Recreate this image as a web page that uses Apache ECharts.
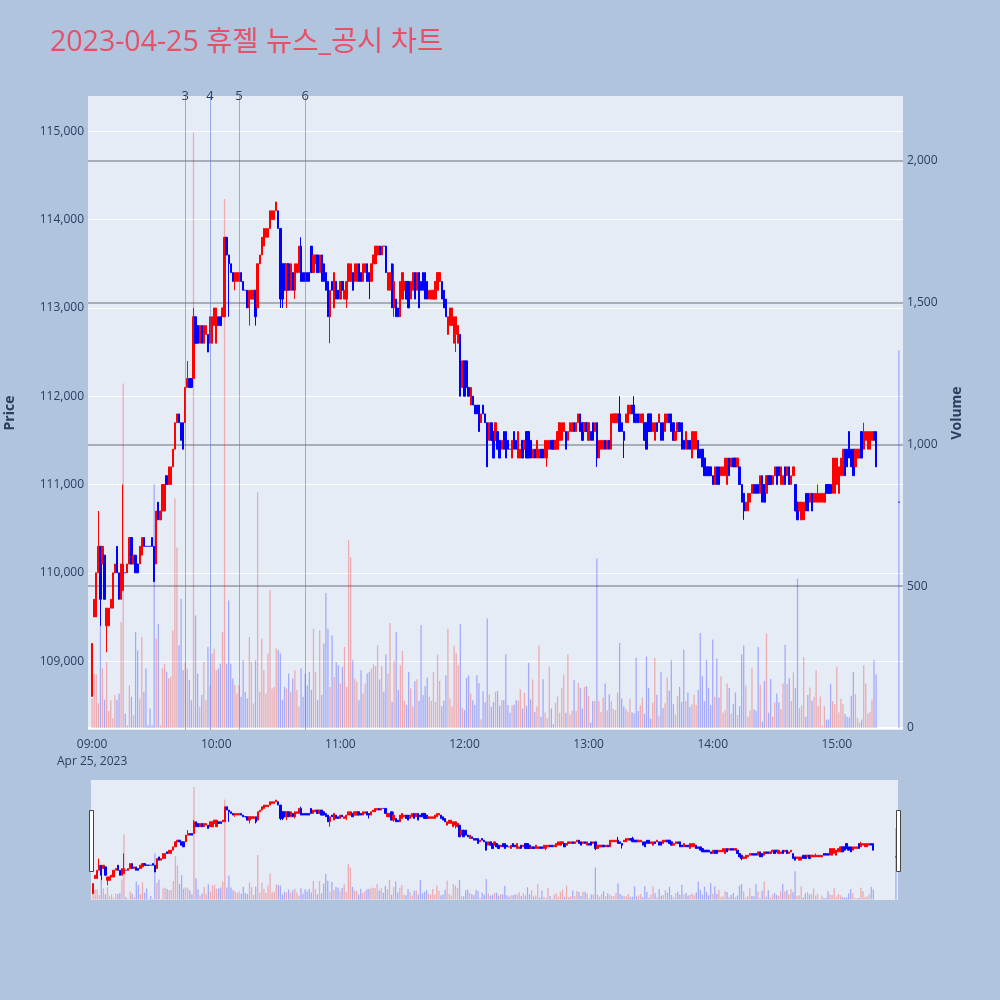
<!DOCTYPE html>
<html><head><meta charset="utf-8">
<script src="https://cdn.jsdelivr.net/npm/echarts@6/dist/echarts.min.js"></script>
<style>html,body{margin:0;padding:0;background:#B0C4DE}#chart{width:1000px;height:1000px}</style>
</head><body><div id="chart"></div>
<script>
const TITLE = '2023-04-25 휴젤 뉴스_공시 차트';
const dateLabel = 'Apr 25, 2023';
const sessionStartMinute = 9 * 60;   // first candle 09:00, one candle per minute
const axisStartMinute = 8 * 60 + 58; // axis range 08:58 .. 15:32
const axisEndMinute = 15 * 60 + 32;

const opens = [
108600,109500,109500,110000,110300,110100,110200,109400,109400,109600,
109600,110000,110300,110000,109700,109800,110000,110000,110100,110400,
110100,110200,110100,110100,110200,110400,110300,110300,110300,110400,
110300,110100,110800,110600,110700,110700,111100,111000,111000,111200,
111400,111700,111800,111700,111700,111700,112100,112200,112200,112200,
112900,112800,112600,112800,112600,112700,112700,112600,112600,112800,
112600,112900,112900,112900,112900,113800,113600,113500,113400,113300,
113300,113300,113400,113300,113200,113200,113000,113100,113100,113200,
113000,113500,113600,113700,113800,113800,113900,114000,114000,114100,
114100,113900,113500,113500,113200,113500,113200,113400,113200,113400,
113400,113700,113400,113400,113400,113400,113700,113400,113500,113600,
113400,113600,113500,113400,113300,112900,113300,113000,113300,113200,
113100,113300,113100,113100,113300,113300,113400,113300,113300,113500,
113400,113300,113400,113500,113400,113300,113500,113500,113600,113700,
113600,113700,113700,113200,113200,113500,113000,113100,113000,112900,
113100,113200,113300,113300,113100,113200,113400,113200,113400,113300,
113400,113400,113300,113100,113100,113100,113100,113200,113300,113300,
113200,113100,112700,112800,112800,112600,112700,112600,112700,112100,
112400,112400,112100,111900,112000,111900,111900,111900,111700,111900,
111800,111700,111500,111700,111600,111500,111600,111500,111400,111600,
111600,111500,111400,111300,111600,111500,111300,111300,111500,111400,
111600,111600,111500,111300,111400,111300,111300,111400,111400,111300,
111300,111400,111500,111500,111400,111400,111500,111500,111600,111600,
111500,111600,111600,111700,111600,111700,111800,111700,111600,111700,
111500,111600,111700,111600,111700,111300,111400,111400,111500,111400,
111500,111400,111700,111700,111700,111800,111700,111600,111700,111700,
111800,111900,111900,111800,111800,111700,111700,111700,111700,111800,
111800,111600,111500,111700,111700,111700,111700,111600,111700,111800,
111800,111700,111500,111600,111700,111700,111500,111400,111500,111500,
111300,111400,111400,111500,111400,111400,111300,111200,111200,111200,
111100,111000,111200,111200,111100,111100,111100,111000,111300,111200,
111300,111300,111200,111200,111000,110900,110700,110700,110800,110900,
111000,111000,111000,110900,111100,111000,110900,111100,111100,111000,
111100,111200,111200,111000,111000,111200,111100,111200,111000,111100,
111000,110800,110700,110600,110600,110900,110900,110800,110900,110800,
110800,110800,110800,110800,110800,111000,111000,111000,110900,110900,
111000,110900,111100,111100,111400,111400,111600,111400,111400,111200,
111300,111300,111600,111400,111500,111400,111400,111500,111600,111600
];
const closes = [
109200,109700,110000,110300,109700,110300,109700,109600,109600,109700,
110000,110100,110000,109700,110100,110100,110000,110100,110400,110100,
110200,110000,110000,110300,110400,110300,110300,110300,110300,110300,
109900,110700,110600,110700,111000,111000,111000,111200,111200,111400,
111700,111800,111700,111500,111400,112100,112200,112100,112100,112900,
112600,112600,112800,112600,112800,112800,112500,112900,112900,113000,
113000,112800,112800,113000,113800,113600,113500,113400,113300,113400,
113400,113400,113300,113200,113200,113000,113200,113200,113200,112900,
113500,113600,113800,113900,113900,113900,114100,114100,114100,114200,
113900,113100,113100,113200,113500,113200,113500,113200,113500,113500,
113700,113300,113300,113300,113300,113300,113400,113600,113600,113400,
113600,113300,113300,113200,112900,113200,113200,113400,113100,113100,
113300,113200,113200,113300,113500,113500,113200,113500,113500,113300,
113300,113500,113500,113300,113300,113500,113600,113700,113700,113600,
113700,113700,113400,113400,113400,113000,113300,112900,112900,113300,
113400,113300,113100,113000,113300,113400,113100,113400,113000,113200,
113200,113100,113100,113200,113200,113200,113300,113400,113400,113100,
113000,112900,112900,113000,113000,112900,112900,112800,112000,112400,
112000,112100,112000,112100,111900,111800,111800,111600,111800,111800,
111700,111200,111700,111500,111300,111700,111400,111300,111500,111400,
111300,111400,111400,111500,111400,111400,111600,111400,111300,111500,
111300,111300,111300,111400,111300,111500,111400,111300,111300,111500,
111500,111500,111400,111400,111500,111600,111700,111700,111700,111400,
111600,111700,111700,111600,111700,111800,111600,111500,111700,111600,
111700,111500,111500,111700,111300,111500,111500,111500,111400,111500,
111400,111800,111800,111800,111800,111600,111600,111500,111800,111900,
111900,111800,111700,111700,111700,111800,111800,111500,111400,111600,
111600,111700,111700,111600,111800,111500,111500,111800,111800,111700,
111600,111500,111600,111700,111600,111400,111400,111600,111400,111400,
111600,111600,111600,111300,111300,111200,111100,111100,111100,111100,
111000,111200,111000,111000,111200,111200,111300,111300,111100,111300,
111200,111200,111300,111000,110800,110700,110800,110900,110900,111000,
110900,110900,110900,111100,110800,110800,111100,111000,111000,111100,
111200,111000,111100,111200,111100,111000,111200,111000,111100,111200,
110700,110600,110800,110800,110800,110700,110700,110900,110700,110900,
110900,110900,110900,110900,110900,110900,110900,110900,111300,111300,
111300,111200,111300,111400,111100,111200,111300,111200,111100,111400,
111400,111400,111300,111600,111600,111600,111600,111600,111500,111200
];
const volumes = [
104,190,190,87,362,210,100,233,60,98,
34,116,98,122,374,1215,51,10,151,110,
45,339,274,104,321,128,210,10,69,10,
860,315,368,10,210,227,198,175,180,345,
810,637,292,456,204,230,210,169,98,2100,
397,192,75,116,233,98,286,150,263,280,
204,210,227,339,1866,227,450,227,175,151,
122,151,110,239,128,104,321,233,87,239,
831,128,315,204,122,263,488,139,145,280,
274,263,98,145,139,192,128,175,204,134,
75,210,110,192,150,198,134,350,198,98,
345,116,298,476,350,145,327,180,233,221,
157,216,286,145,662,602,239,175,163,98,
204,122,157,192,198,210,225,218,292,171,
218,128,259,192,370,92,237,339,134,221,
272,96,81,198,139,77,165,172,96,362,
116,148,178,110,96,198,92,259,166,77,
96,186,350,104,77,290,265,221,366,72,
63,177,186,122,98,81,186,159,31,130,
91,386,119,75,92,128,131,78,98,98,
259,81,54,80,82,98,96,137,68,124,
78,230,101,171,57,77,291,40,172,55,
35,216,69,14,89,112,54,142,189,54,
260,47,61,169,61,159,142,69,145,148,
114,19,95,95,598,95,56,108,157,63,
119,94,67,63,125,300,104,77,67,57,
104,55,51,248,60,80,107,50,252,141,
33,90,247,117,43,198,71,87,178,131,
239,84,48,112,145,92,277,95,125,75,
84,117,81,134,335,183,95,241,142,81,
312,110,245,107,182,54,63,157,141,51,
84,125,46,77,259,291,150,40,63,211,
66,61,286,152,22,166,333,54,173,40,
90,122,90,67,157,294,155,176,95,196,
142,527,70,80,250,40,116,143,96,110,
204,78,111,8,77,30,30,156,95,84,
216,55,102,84,49,40,37,114,198,119,
36,20,30,221,157,51,57,101,239,189
];
const wickLow = {'09:04':109400,'09:07':109100,'10:06':112900,'10:09':113200,'10:16':112800,'10:19':112800,
  '10:31':113000,'10:32':113000,'10:34':113000,'10:38':113100,'10:55':112600,'11:03':113000,'11:14':113100,
  '11:26':112900,'11:56':112500,'12:40':111200,'13:04':111200,'13:17':111300,'14:15':110600};
const wickHigh = {'09:03':110700,'09:15':111000,'09:46':112400,'09:49':113000,'10:41':113800,'11:26':113500,
  '13:15':112000,'13:22':112000,'14:51':111000,'15:13':111700};
const auction = {time:'15:30', open:110800, close:110800, volume:1331};
const newsTimes = ['09:45','09:57','10:11','10:43'];
const newsLabels = ['3','4','5','6'];
const priceTicks = [109000,110000,111000,112000,113000,114000,115000];
const volumeTicks = [0,500,1000,1500,2000];

const UP = '#FF0000', DOWN = '#0000FF';
const VOL_UP = 'rgba(255,0,0,0.28)', VOL_DOWN = 'rgba(0,0,255,0.28)';
const FONT = "'Open Sans','Noto Sans CJK KR',sans-serif";
const INK = '#2a3f5f';

function hhmm(t){return String(Math.floor(t/60)).padStart(2,'0')+':'+String(t%60).padStart(2,'0');}
const categories = [];
for (let t = axisStartMinute; t <= axisEndMinute; t++) categories.push(hhmm(t));

const byTime = {};
opens.forEach((o, i) => {
  const t = hhmm(sessionStartMinute + i), c = closes[i];
  byTime[t] = {o, c,
    l: Math.min(o, c, wickLow[t] ?? Infinity),
    h: Math.max(o, c, wickHigh[t] ?? -Infinity),
    v: volumes[i]};
});
byTime[auction.time] = {o:auction.open, c:auction.close, l:auction.close, h:auction.close, v:auction.volume};

const candleData = categories.map(t => {
  const d = byTime[t]; if (!d) return '-';
  const item = {value:[d.o, d.c, d.l, d.h]};
  if (d.o === d.c) item.itemStyle = {color:DOWN, color0:DOWN, borderColor:DOWN, borderColor0:DOWN};
  return item;
});
const volumeData = categories.map(t => {
  const d = byTime[t]; if (!d) return '-';
  return {value:d.v, itemStyle:{color: d.c > d.o ? VOL_UP : VOL_DOWN}};
});

const fmt = v => Number(v).toLocaleString('en-US');
const candleStyle = {color:UP, color0:DOWN, borderColor:UP, borderColor0:DOWN, borderWidth:1};

const chart = echarts.init(document.getElementById('chart'), null, {renderer:'canvas'});
chart.setOption({
  animation:false,
  backgroundColor:'#B0C4DE',
  textStyle:{fontFamily:FONT},
  title:{text:TITLE, left:45, top:24, textStyle:{color:'#E8506A', fontSize:28.5, fontWeight:'normal', fontFamily:FONT}},
  grid:[
    {left:88, top:96, width:815, height:634, show:true, backgroundColor:'#E5ECF6', borderWidth:0, outerBoundsMode:'none', containLabel:false},
    {left:91, top:780, width:807, height:120, show:true, backgroundColor:'#E5ECF6', borderWidth:0, outerBoundsMode:'none', containLabel:false}
  ],
  xAxis:[
    {type:'category', gridIndex:0, data:categories, boundaryGap:false,
     axisLine:{show:false}, axisTick:{show:false}, splitLine:{show:false},
     axisLabel:{color:INK, fontSize:12, margin:6, lineHeight:17,
       interval:(i, v) => v.endsWith(':00') && v >= '09:00' && v <= '15:00',
       formatter:v => v === '09:00' ? v + '\n' + dateLabel : v}},
    {type:'category', gridIndex:1, data:categories, boundaryGap:false, min:1, max:393,
     axisLine:{show:false}, axisTick:{show:false}, axisLabel:{show:false}, splitLine:{show:false}}
  ],
  yAxis:[
    {type:'value', gridIndex:0, position:'left', min:108220, max:115400, scale:true,
     name:'Price', nameLocation:'middle', nameGap:71,
     nameTextStyle:{color:INK, fontSize:14, fontWeight:'bold'},
     axisLine:{show:false}, axisTick:{show:false, customValues:priceTicks},
     axisLabel:{customValues:priceTicks, formatter:fmt, color:INK, fontSize:12, margin:4},
     splitLine:{show:true, lineStyle:{color:'#ffffff', width:1}}},
    {type:'value', gridIndex:0, position:'right', min:-7, max:2229,
     name:'Volume', nameLocation:'middle', nameGap:47,
     nameTextStyle:{color:INK, fontSize:14, fontWeight:'bold'},
     axisLine:{show:false}, axisTick:{show:false, customValues:volumeTicks},
     axisLabel:{customValues:volumeTicks, formatter:fmt, color:INK, fontSize:12, margin:4},
     splitLine:{show:true, lineStyle:{color:['#ffffff','#a9adb5','#a9adb5','#a9adb5','#a9adb5'], width:2}}},
    {type:'value', gridIndex:1, min:108220, max:115400, scale:true, show:false, splitLine:{show:false}},
    {type:'value', gridIndex:1, min:-7, max:2229, show:false, splitLine:{show:false}}
  ],
  series:[
    {type:'bar', xAxisIndex:0, yAxisIndex:1, data:volumeData, barWidth:1.3, z:2},
    {type:'candlestick', xAxisIndex:0, yAxisIndex:0, data:candleData, barWidth:1.8, itemStyle:candleStyle, z:3,
     markLine:{silent:true, symbol:['none','none'], animation:false,
       lineStyle:{color:'rgba(65,105,225,0.5)', width:1, type:'solid'},
       label:{show:true, position:'end', formatter:'{b}', color:INK, fontSize:13, distance:-7},
       data:newsTimes.map((t, i) => ({xAxis:t, name:newsLabels[i]}))}},
    {type:'bar', xAxisIndex:1, yAxisIndex:3, data:volumeData, barWidth:1.3, z:2},
    {type:'candlestick', xAxisIndex:1, yAxisIndex:2, data:candleData, barWidth:1.8, itemStyle:candleStyle, z:3}
  ],
  graphic:[
    {type:'rect', left:89, top:810, shape:{width:4, height:61}, style:{fill:'#ffffff', stroke:'#444444', lineWidth:1}, z:100},
    {type:'rect', left:896, top:810, shape:{width:4, height:61}, style:{fill:'#ffffff', stroke:'#444444', lineWidth:1}, z:100}
  ]
});
</script></body></html>
